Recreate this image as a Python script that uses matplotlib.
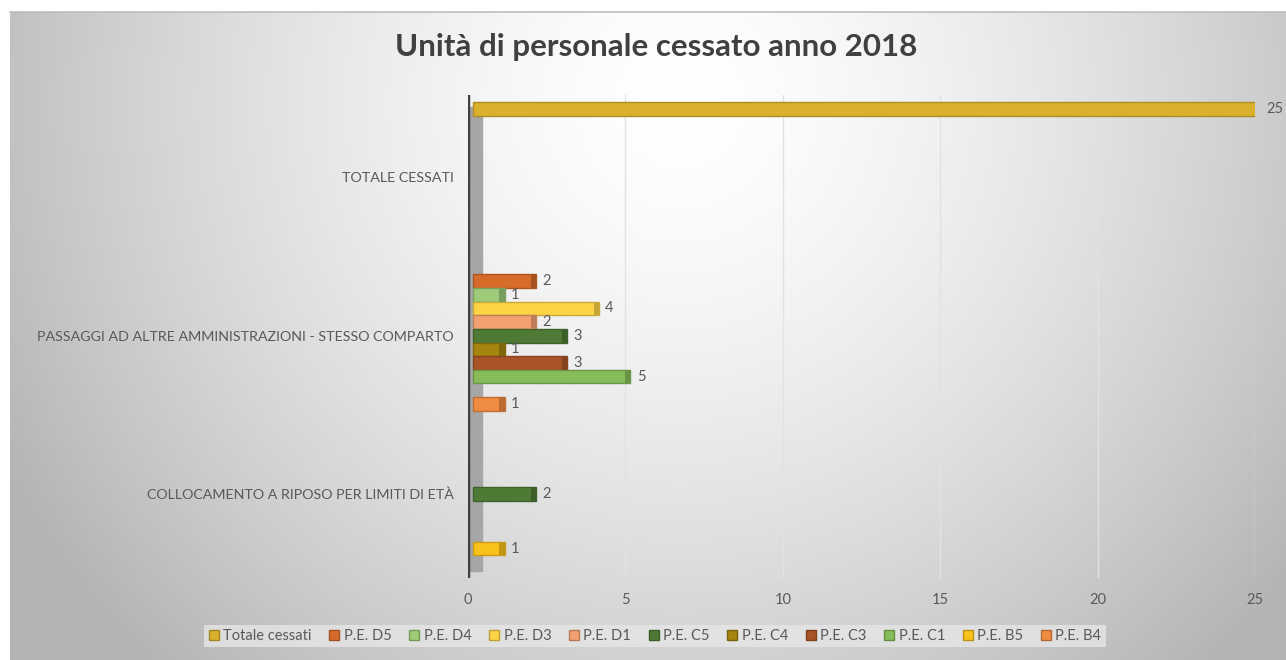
import numpy as np
import matplotlib.pyplot as plt
from matplotlib.patches import Patch
from matplotlib.colors import to_rgb

plt.rcParams['font.family'] = ['Lato', 'DejaVu Sans']

# dati
categorie = ["COLLOCAMENTO A RIPOSO PER LIMITI DI ETÀ",
             "PASSAGGI AD ALTRE AMMINISTRAZIONI - STESSO COMPARTO",
             "TOTALE CESSATI"]
serie = ["Totale cessati", "P.E. D5", "P.E. D4", "P.E. D3", "P.E. D1",
         "P.E. C5", "P.E. C4", "P.E. C3", "P.E. C1", "P.E. B5", "P.E. B4"]
nan = np.nan
totale_cessati = [nan, nan, 25]
pe_d5 = [nan, 2, nan]
pe_d4 = [nan, 1, nan]
pe_d3 = [nan, 4, nan]
pe_d1 = [nan, 2, nan]
pe_c5 = [2, 3, nan]
pe_c4 = [nan, 1, nan]
pe_c3 = [nan, 3, nan]
pe_c1 = [nan, 5, nan]
pe_b5 = [1, nan, nan]
pe_b4 = [nan, 1, nan]
valori = [totale_cessati, pe_d5, pe_d4, pe_d3, pe_d1, pe_c5, pe_c4,
          pe_c3, pe_c1, pe_b5, pe_b4]
colori = ["#D9B12C", "#D66B2A", "#9DCB78", "#FDD446", "#F3A071", "#4F7A35",
          "#A5840F", "#A95427", "#86BC59", "#F9C21B", "#F08B42"]

tick_x = [0, 5, 10, 15, 20, 25]


def scuro(c, f=0.7):
    r, g, b = to_rgb(c)
    return (r * f, g * f, b * f)


fig = plt.figure(figsize=(12.86, 6.6), dpi=100, facecolor="white")

# sfondo sfumato
bg = fig.add_axes([10 / 1286, 0, 1 - 10 / 1286, (660 - 12) / 660], zorder=-10)
W, H = 1276, 648
xx, yy = np.meshgrid(np.arange(W), np.arange(H))
d = np.sqrt(((xx - 670) / 640.0) ** 2 + ((yy - 90) / 650.0) ** 2)
g = 255 - 57 * np.clip(d, 0, 1.2) ** 1.5
img = np.dstack([g, g, g]) / 255.0
bg.imshow(np.clip(img, 0, 1), aspect="auto", extent=[0, 1, 0, 1])
bg.axis("off")
# bordo superiore
fig.add_artist(plt.Line2D([10 / 1286, 1], [(660 - 12) / 660] * 2,
                          color="#bdbdbd", lw=1.2))

ax = fig.add_axes([468 / 1286, (660 - 578) / 660, (1255 - 468) / 1286, (578 - 95) / 660])
ax.patch.set_alpha(0)

passo = 0.0862
alt = 0.086
cap = 0.16
x0 = 0.16
y_cat = np.arange(len(categorie))

# parete 3D
ax.axvspan(0, 0.45, ymin=0.015, ymax=0.975, color="#a6a6a6", zorder=1)
ax.axvline(0, color="#404040", lw=2.5, zorder=5)

for x in tick_x[1:]:
    ax.axvline(x, color="#e2e2e2", lw=1, zorder=0.5)

for i, (nome, vals, col) in enumerate(zip(serie, valori, colori)):
    v = np.array(vals, dtype=float)
    y = y_cat + (5 - i) * passo
    ok = ~np.isnan(v)
    ax.barh(y[ok], v[ok], height=alt, left=x0, color=col,
            edgecolor=scuro(col, 0.8), lw=1, zorder=3)
    ax.barh(y[ok], cap, height=alt, left=v[ok] + x0 - cap,
            color=scuro(col, 0.78), zorder=4)
    for yy_, vv in zip(y[ok], v[ok]):
        ax.text(vv + x0 + 0.2, yy_, f"{vv:g}", va="center", ha="left",
                fontsize=10.5, color="#595959", zorder=6, clip_on=False)

ax.set_xlim(0, 25)
ax.set_ylim(-0.53, 2.52)
ax.set_xticks(tick_x)
ax.set_yticks(y_cat)
ax.set_yticklabels(categorie)
ax.tick_params(axis="both", length=0, labelsize=10.3, labelcolor="#595959")
ax.tick_params(axis="x", labelsize=10.5, pad=11)
ax.tick_params(axis="y", pad=10)
for s in ax.spines.values():
    s.set_visible(False)

fig.text(656 / 1286, 1 - 47 / 660, "Unità di personale cessato anno 2018",
         ha="center", va="center", fontsize=22.5, fontweight="bold", color="#404040")

handles = [Patch(facecolor=c, edgecolor=scuro(c, 0.75), lw=1) for c in colori]
leg = fig.legend(handles, serie, loc="center", bbox_to_anchor=(655 / 1286, 1 - 636 / 660),
                 ncol=len(serie), frameon=True, fontsize=10.5, handlelength=0.7,
                 handleheight=0.7, handletextpad=0.3, columnspacing=1.2,
                 borderpad=0.3)
leg.get_frame().set_facecolor("#e6e6e6")
leg.get_frame().set_edgecolor("none")
leg.get_frame().set_boxstyle("square", pad=0)
for t in leg.get_texts():
    t.set_color("#595959")

fig.savefig("out.png", dpi=100)
